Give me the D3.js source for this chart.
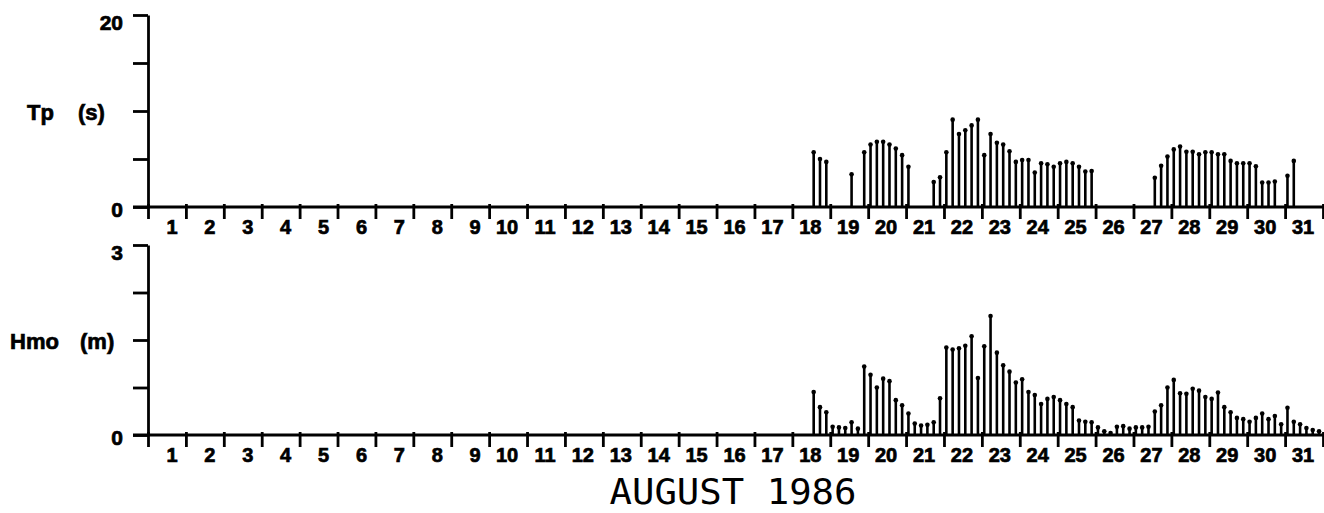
<!DOCTYPE html>
<html>
<head>
<meta charset="utf-8">
<script src="https://cdn.jsdelivr.net/npm/d3@7"></script>
<style>
  html, body { margin: 0; padding: 0; background: #fff; }
  svg { display: block; }
  .lbl { font-family: "Liberation Sans", Arial, sans-serif; font-weight: bold; fill: #000; stroke: #000; stroke-width: 0.7; }
  .title { font-family: "DejaVu Sans Mono", monospace; fill: #000; }
</style>
</head>
<body>
<svg id="chart" width="1324" height="513"></svg>
<script>
// ---- Data ----
const days = d3.range(1, 32);            // August 1..31
const startDay = 18;                      // first sample: Aug 18
const startHour = 13.5;                   // hour of first sample
const stepHours = 4;                      // sampling interval

// Peak period Tp (s); null = no value plotted
const tpValues = [
  5.7, 5.0, 4.7,                          // 18
  null, null, null, 3.4, null, 5.7,       // 19
  6.5, 6.8, 6.8, 6.5, 6.1, 5.4,           // 20
  4.2, null, null, null, 2.6, 3.1,        // 21
  5.7, 9.1, 7.6, 8.0, 8.5, 9.1,           // 22
  5.4, 7.6, 6.7, 6.5, 5.8, 4.7,           // 23
  4.9, 4.9, 3.6, 4.55, 4.45, 4.2,         // 24
  4.55, 4.7, 4.55, 4.2, 3.7, 3.75,        // 25
  null, null, null, null, null, null,     // 26
  null, null, null, 3.05, 4.3, 5.25,      // 27
  6.0, 6.3, 5.75, 5.75, 5.5, 5.7,         // 28
  5.7, 5.5, 5.5, 4.8, 4.55, 4.55,         // 29
  4.55, 4.25, 2.55, 2.55, 2.65, null,     // 30
  3.25, 4.8                               // 31
];

// Significant wave height Hmo (m)
const hmoValues = [
  0.68, 0.44, 0.36,                       // 18
  0.13, 0.12, 0.11, 0.20, 0.10, 1.08,     // 19
  0.95, 0.75, 0.89, 0.85, 0.55, 0.47,     // 20
  0.34, 0.18, 0.15, 0.16, 0.20, 0.58,     // 21
  1.38, 1.35, 1.37, 1.41, 1.56, 0.90,     // 22
  1.40, 1.88, 1.30, 1.10, 1.00, 0.83,     // 23
  0.88, 0.68, 0.63, 0.49, 0.57, 0.60,     // 24
  0.55, 0.49, 0.44, 0.23, 0.21, 0.20,     // 25
  0.12, 0.06, 0.03, 0.13, 0.14, 0.10,     // 26
  0.12, 0.12, 0.13, 0.37, 0.47, 0.75,     // 27
  0.87, 0.66, 0.65, 0.73, 0.70, 0.60,     // 28
  0.57, 0.67, 0.44, 0.36, 0.27, 0.25,     // 29
  0.21, 0.27, 0.34, 0.25, 0.30, 0.17,     // 30
  0.43, 0.21, 0.17, 0.11, 0.08, 0.06      // 31
];

const tpTicks = [0, 5, 10, 15, 20];
const tpTickLabels = ["0", "20"];
const hmoTicks = [0, 0.75, 1.5, 2.25, 3];
const hmoTickLabels = ["0", "3"];
const title = "AUGUST 1986";

// ---- Drawing ----
const svg = d3.select("#chart");
const x = d3.scaleLinear().domain([1, 32]).range([148, 1323]);
const timeOf = i => startDay + (startHour + stepHours * i) / 24;

const panels = [
  { values: tpValues, y: d3.scaleLinear().domain([0, 20]).range([207, 15]),
    ticks: tpTicks, tickLabels: tpTickLabels, name: "Tp", unit: "(s)", nameX: 27, unitX: 78 },
  { values: hmoValues, y: d3.scaleLinear().domain([0, 3]).range([435, 245]),
    ticks: hmoTicks, tickLabels: hmoTickLabels, name: "Hmo", unit: "(m)", nameX: 10, unitX: 80 }
];

panels.forEach(p => {
  const g = svg.append("g");
  const y0 = p.y(0);
  const yTop = p.y(p.ticks[p.ticks.length - 1]);
  const ymid = p.y(p.ticks[2]);

  // y axis
  const yAxis = d3.axisLeft(p.y).tickValues(p.ticks).tickSize(15).tickSizeOuter(0).tickFormat("");
  const ya = g.append("g").attr("transform", "translate(148,0)").call(yAxis);
  ya.selectAll("path, line").attr("stroke", "#000").attr("stroke-width", 2.8);

  // x axis
  const xa = g.append("g").attr("transform", `translate(0,${y0})`)
    .call(d3.axisBottom(x).tickValues(d3.range(1, 33)).tickSize(12).tickSizeOuter(0).tickFormat(""));
  xa.select("path.domain").attr("d", `M133,0H1323`);
  xa.selectAll("path, line").attr("stroke", "#000").attr("stroke-width", 2.8);
  xa.selectAll(".tick line").attr("y1", -3);

  // day labels
  g.selectAll("text.day").data(days).join("text")
    .attr("class", "lbl day")
    .attr("x", d => x(d + 0.5) + (d < 10 ? 5 : -1))
    .attr("y", y0 + 27)
    .attr("text-anchor", "middle")
    .attr("font-size", 20)
    .text(d => d);

  // y tick labels
  g.append("text").attr("class", "lbl").attr("x", 123).attr("y", y0 + 10)
    .attr("text-anchor", "end").attr("font-size", 21).text(p.tickLabels[0]);
  g.append("text").attr("class", "lbl").attr("x", 123).attr("y", yTop + 15)
    .attr("text-anchor", "end").attr("font-size", 21).text(p.tickLabels[1]);

  // axis title
  g.append("text").attr("class", "lbl").attr("x", p.nameX).attr("y", ymid + 9)
    .attr("font-size", 22).text(p.name);
  g.append("text").attr("class", "lbl").attr("x", p.unitX).attr("y", ymid + 9)
    .attr("font-size", 22).text(p.unit);

  // bars (stems with dots)
  const pts = p.values.map((v, i) => ({ t: timeOf(i), v })).filter(d => d.v !== null);
  g.selectAll("line.bar").data(pts).join("line")
    .attr("class", "bar")
    .attr("x1", d => x(d.t)).attr("x2", d => x(d.t))
    .attr("y1", y0).attr("y2", d => p.y(d.v))
    .attr("stroke", "#000").attr("stroke-width", 2.6);
  g.selectAll("circle.dot").data(pts).join("circle")
    .attr("class", "dot")
    .attr("cx", d => x(d.t)).attr("cy", d => p.y(d.v))
    .attr("r", 2.3).attr("fill", "#000");
});

svg.append("text").attr("class", "title")
  .attr("x", 733).attr("y", 504)
  .attr("text-anchor", "middle")
  .attr("font-size", 35)
  .attr("textLength", 247).attr("lengthAdjust", "spacingAndGlyphs")
  .text(title);
</script>
</body>
</html>
